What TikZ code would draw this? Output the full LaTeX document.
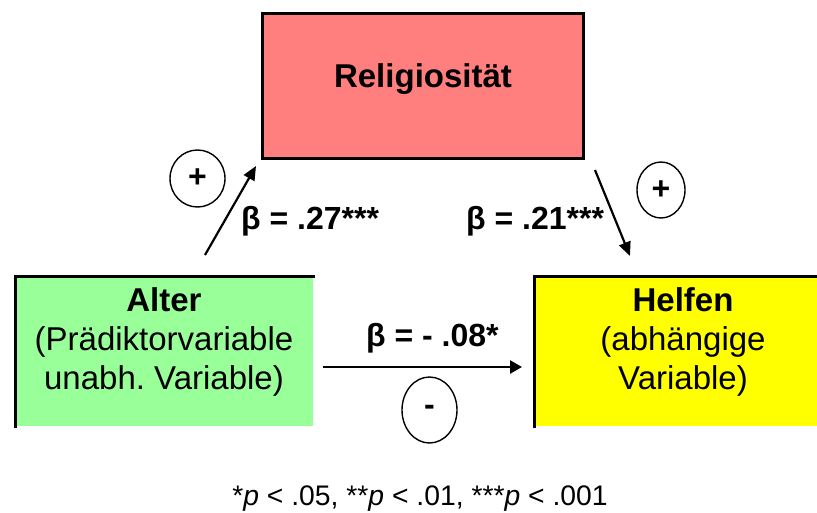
\documentclass[tikz,border=0pt]{standalone}
\usepackage{fontspec}
\setmainfont{Liberation Sans}
\usetikzlibrary{arrows.meta,shapes.geometric}
\definecolor{relred}{HTML}{FF7F7F}
\definecolor{altgreen}{HTML}{99FF99}
\definecolor{helfyellow}{HTML}{FFFF00}
\begin{document}
\begin{tikzpicture}[x=1pt,y=-1pt,
  boxfill/.style={inner sep=0pt,outer sep=0pt,draw=none},
  border/.style={line width=3pt,line cap=rect},
  boxtext/.style={align=center,font=\fontsize{33}{39}\selectfont},
  betalab/.style={font=\bfseries\fontsize{32}{36}\selectfont,inner sep=0pt},
  conn/.style={line width=2.2pt,-{Triangle[length=14pt,width=12pt]}},
  hconn/.style={line width=2.5pt,-{Triangle[length=12pt,width=13pt]}},
  signoval/.style={draw,ellipse,line width=1.4pt,inner sep=0pt,font=\bfseries\fontsize{32}{34}\selectfont},
  foot/.style={font=\fontsize{28.3}{32}\selectfont,inner sep=0pt}]
\useasboundingbox (0,0) rectangle (817,512);
% boxes
\node[boxfill,fill=relred,draw,line width=3pt,minimum width=321pt,minimum height=145pt] (rel) at (423,85.5) {};
\node[boxfill,fill=altgreen,minimum width=298pt,minimum height=150pt] (alt) at (164,351) {};
\node[boxfill,fill=helfyellow,minimum width=283pt,minimum height=150pt] (hel) at (675.5,351) {};
\draw[border] (alt.south west) -- (alt.north west) -- (alt.north east);
\draw[border] (hel.south west) -- (hel.north west) -- (hel.north east);
% texts
\node[boxtext,font=\bfseries\fontsize{33}{39}\selectfont] (reltxt) at (423,79) {Religiosität};
\node[boxtext] (alttxt) at (164,342) {{\bfseries Alter}\\(Prädiktorvariable\\unabh.~Variable)};
\node[boxtext] (heltxt) at (683,342) {{\bfseries Helfen}\\(abhängige\\Variable)};
% connectors
\coordinate (a1s) at (205,255);
\coordinate (a1e) at (256,166);
\coordinate (a2s) at (595,170);
\coordinate (a2e) at (630,256);
\coordinate (a3s) at (323,367);
\coordinate (a3e) at (522,367);
\draw[conn] (a1s) -- (a1e);
\draw[conn] (a2s) -- (a2e);
\draw[hconn] (a3s) -- (a3e);
% labels
\node[betalab,anchor=base west] (b1) at (241,229) {β = .27***};
\node[betalab,anchor=base west] (b2) at (466,229) {β = .21***};
\node[betalab,anchor=base west] (b3) at (366,346) {β = - .08*};
% signs
\node[signoval,minimum width=55pt,minimum height=57pt] (s1) at (197.5,178.5) {+};
\node[signoval,minimum width=48pt,minimum height=56pt] (s2) at (661,190) {+};
\node[signoval,minimum width=55pt,minimum height=66pt] (s3) at (429.5,410) {-};
% footnote
\node[foot,anchor=base] (fn) at (420,505) {*\textit{p} < .05, **\textit{p} < .01, ***\textit{p} < .001};
\end{tikzpicture}
\end{document}
